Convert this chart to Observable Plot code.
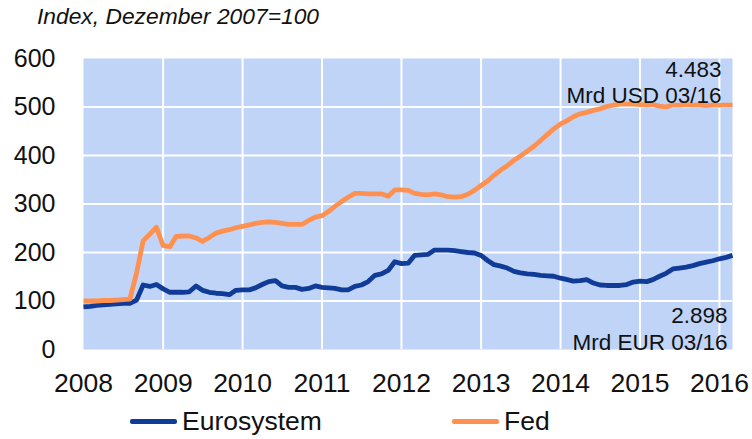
<!DOCTYPE html>
<html>
<head>
<meta charset="utf-8">
<script src="https://cdn.jsdelivr.net/npm/d3@7"></script>
<script src="https://cdn.jsdelivr.net/npm/@observablehq/plot@0.6"></script>
<style>
  body { margin: 0; background: #fff; font-family: "Liberation Sans", Arial, sans-serif; }
  #wrap { width: 752px; height: 439px; position: relative; overflow: hidden; }
  #subtitle { height: 35px; position: relative; }
  #subtitle span { position: absolute; left: 37px; top: 3px; font-size: 22.8px; font-style: italic; color: #111; white-space: nowrap; }
  #legend { height: 39px; position: relative; font-size: 26.5px; color: #111; }
  .item { position: absolute; top: 6px; display: flex; align-items: center; white-space: nowrap; }
  .sw { width: 47px; height: 5px; margin-right: 5px; border-radius: 2px; }
</style>
</head>
<body>
<div id="wrap">
  <div id="subtitle"><span>Index, Dezember 2007=100</span></div>
  <div id="chart"></div>
  <div id="legend"></div>
</div>
<script>
const startMonth = "2008-01-01";
const endMonth = "2016-03-01";
const seriesNames = ["Eurosystem", "Fed"];
const seriesColors = ["#103c98", "#ff9150"];
const yTicks = [0, 100, 200, 300, 400, 500, 600];
const xTickYears = [2008, 2009, 2010, 2011, 2012, 2013, 2014, 2015, 2016];
const fedLabel = "4.483\nMrd USD 03/16";
const euroLabel = "2.898\nMrd EUR 03/16";

const fed = [
  100,100,100,101,101,102,103,104,158,224,238,252,
  214,212,233,234,234,230,223,231,240,244,247,251,
  254,257,260,262,263,262,260,258,258,258,266,273,
  276,285,295,305,314,322,322,321,321,321,316,329,
  329,328,322,320,319,321,319,315,314,315,320,328,
  338,348,359,370,379,390,399,409,419,431,443,455,
  465,472,480,486,489,493,496,501,504,506,506,506,
  505,504,505,502,500,504,504,505,504,504,503,504,
  504,504,504
];
const euro = [
  88,89,91,92,93,94,95,95,102,133,130,134,
  125,118,118,118,119,131,122,118,116,115,113,122,
  123,123,127,134,140,142,131,128,128,124,126,131,
  128,127,126,123,123,130,133,140,153,156,163,181,
  177,178,194,195,196,205,205,205,204,202,200,199,
  194,183,175,172,168,161,158,156,155,153,152,151,
  147,144,141,142,144,137,133,132,132,132,134,139,
  141,140,144,151,157,166,168,170,173,177,180,183,
  187,190,194
];

const start = new Date(startMonth);
const rows = [];
euro.forEach((v, i) => rows.push({date: d3.utcMonth.offset(start, i), value: v, series: seriesNames[0]}));
fed.forEach((v, i) => rows.push({date: d3.utcMonth.offset(start, i), value: v, series: seriesNames[1]}));
const yearDates = xTickYears.map(y => new Date(Date.UTC(y, 0, 1)));

const chart = Plot.plot({
  width: 752,
  height: 365,
  marginLeft: 83,
  marginRight: 20,
  marginTop: 23,
  marginBottom: 51,
  style: {fontFamily: "'Liberation Sans', Arial, sans-serif", fontSize: "25px", color: "#111", background: "transparent"},
  x: {type: "utc", domain: [new Date(startMonth), new Date(endMonth)]},
  y: {domain: [0, 600]},
  color: {domain: seriesNames, range: seriesColors},
  marks: [
    Plot.frame({fill: "#c0d4f7", stroke: null}),
    Plot.ruleX(yearDates.slice(1), {stroke: "#fff", strokeWidth: 2}),
    Plot.ruleY(yTicks.slice(1, -1), {stroke: "#fff", strokeWidth: 2}),
    Plot.axisX({ticks: yearDates, tickFormat: d3.utcFormat("%Y"), tickSize: 0, tickPadding: 24, fontSize: 26.5, label: null}),
    Plot.axisY({ticks: yTicks, tickSize: 0, tickPadding: 28, fontSize: 25, label: null}),
    Plot.line(rows, {x: "date", y: "value", z: "series", stroke: "series", strokeWidth: 4.8, strokeLinejoin: "round", strokeLinecap: "butt"}),
    Plot.text([fedLabel], {frameAnchor: "top-right", textAnchor: "end", lineAnchor: "top", dx: -11, dy: -1, fontSize: 22.5, lineHeight: 1.19, fill: "#111"}),
    Plot.text([euroLabel], {frameAnchor: "bottom-right", textAnchor: "end", lineAnchor: "bottom", dx: -5, dy: 0, fontSize: 22.5, lineHeight: 1.19, fill: "#111"})
  ]
});
document.getElementById("chart").appendChild(chart);

const legend = document.getElementById("legend");
const legendX = [130, 452];
seriesNames.forEach((name, i) => {
  const it = document.createElement("div");
  it.className = "item";
  it.style.left = legendX[i] + "px";
  it.innerHTML = `<span class="sw" style="background:${seriesColors[i]}"></span><span>${name}</span>`;
  legend.appendChild(it);
});
</script>
</body>
</html>
